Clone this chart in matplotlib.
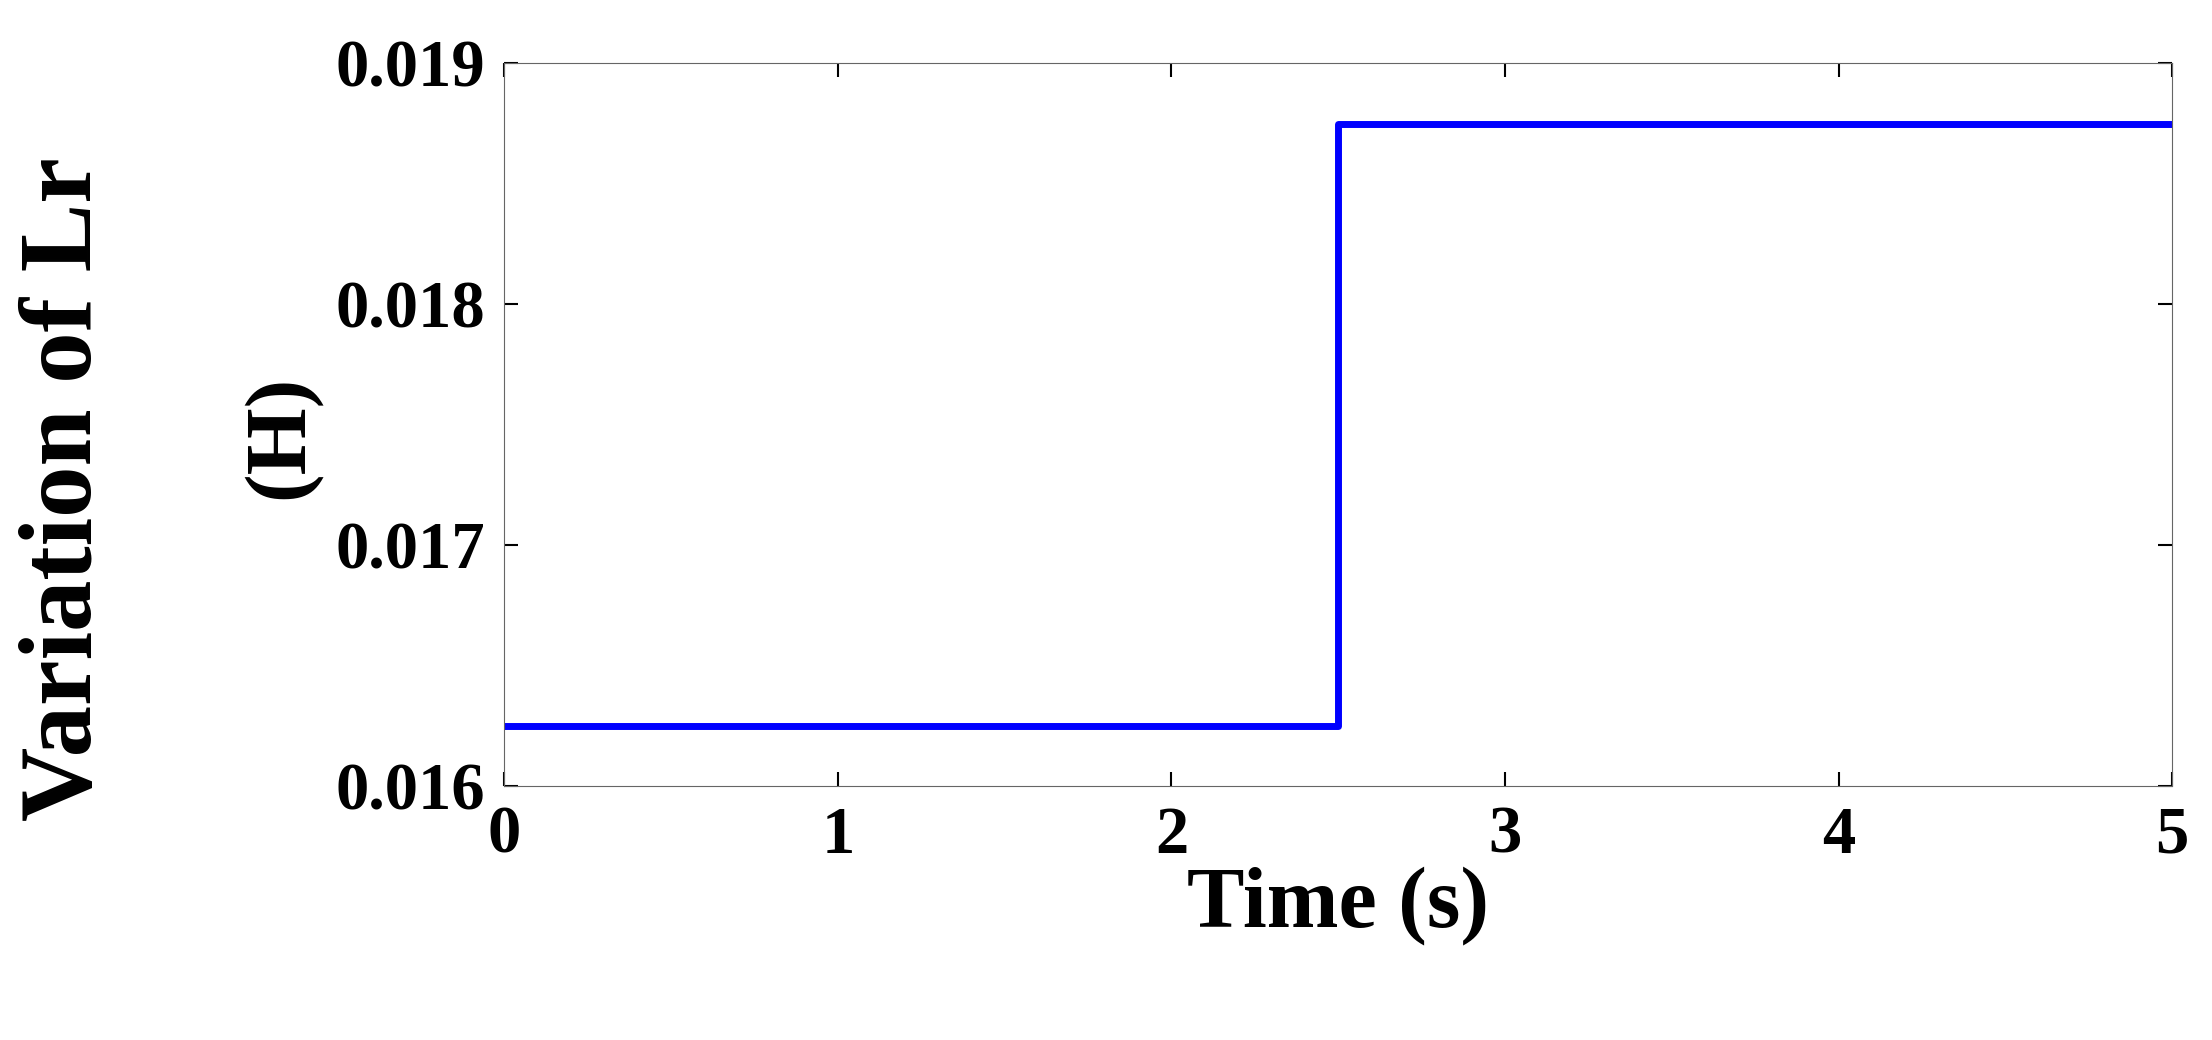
import matplotlib.pyplot as plt

t = [0, 2.5, 2.5, 5]
lr = [0.01625, 0.01625, 0.01875, 0.01875]
xticks = [0, 1, 2, 3, 4, 5]
yticks = [0.016, 0.017, 0.018, 0.019]

plt.rcParams['font.family'] = 'Liberation Serif'
plt.rcParams['font.weight'] = 'bold'

fig = plt.figure(figsize=(22.12, 10.4), dpi=100)
ax = fig.add_axes([0.228, 0.244, 0.754, 0.695])
ax.plot(t, lr, color='#0000ff', lw=5)
ax.set_xlim(0, 5)
ax.set_ylim(0.016, 0.019)
ax.set_xticks(xticks)
ax.set_yticks(yticks)
ax.set_yticklabels(['%.3f' % v for v in yticks])
ax.tick_params(labelsize=48, direction='in', length=10, top=True, right=True, width=1.5)
ax.tick_params(axis='x', pad=14)
ax.tick_params(axis='y', pad=14)
for s in ax.spines.values():
    s.set_color('#666666')
ax.set_xlabel('Time (s)', fontsize=62, fontweight='bold', labelpad=0)
fig.text(0.03, 0.53, 'Variation of Lr', rotation=90, fontsize=74, fontweight='bold',
         ha='center', va='center')
fig.text(0.127, 0.58, '(H)', rotation=90, fontsize=62, fontweight='bold',
         ha='center', va='center')
fig.savefig('out.png')
